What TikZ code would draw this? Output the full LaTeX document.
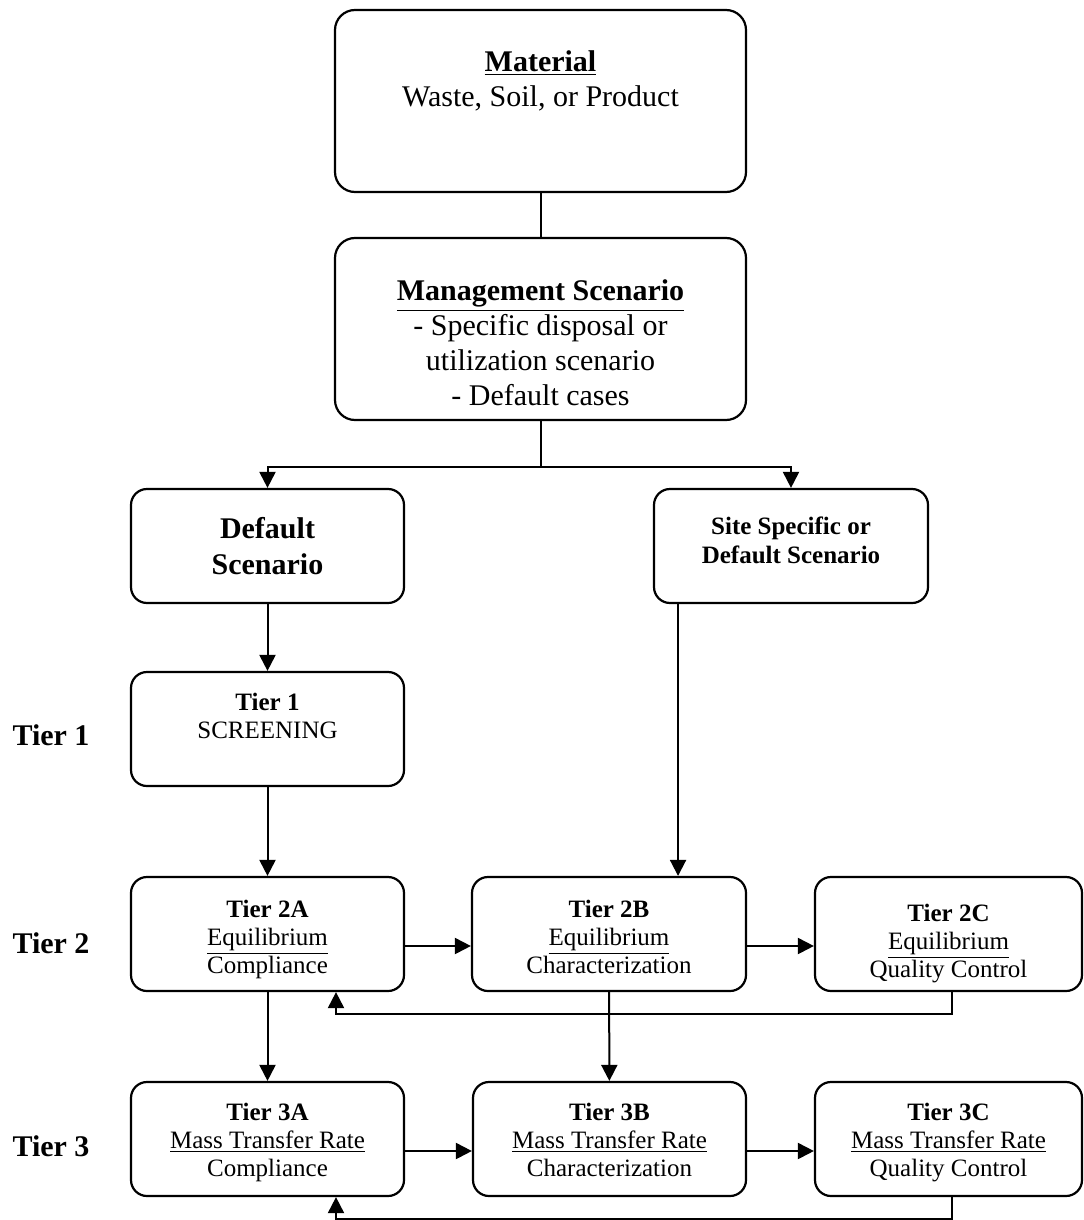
\documentclass[tikz,border=0pt]{standalone}
\usepackage{fontspec}
\setmainfont{Liberation Serif}
\usetikzlibrary{arrows.meta,calc}

\begin{document}
\begin{tikzpicture}[x=0.5pt,y=-0.5pt,>={Triangle[length=8pt,width=8pt]},line width=1pt]
 \tikzstyle{bigbox} = [draw=black,line width=1.1pt,rounded corners=10pt,minimum width=205.5pt,minimum height=91pt,inner sep=0]
 \tikzstyle{midbox} = [draw=black,line width=1.1pt,rounded corners=8pt,minimum width=136.5pt,minimum height=57pt,inner sep=0]
 \tikzstyle{endbox} = [midbox,minimum width=133.5pt]
 \tikzstyle{bigtext} = [align=center,inner sep=0,font=\fontsize{15pt}{17.5pt}\selectfont]
 \tikzstyle{sitetext} = [align=center,inner sep=0,font=\bfseries\fontsize{12.5pt}{14.5pt}\selectfont]
 \tikzstyle{tiertext} = [align=center,inner sep=0,anchor=north,font=\fontsize{12.5pt}{14pt}\selectfont]
 \tikzstyle{tierlabel} = [inner sep=0,font=\bfseries\fontsize{15pt}{17pt}\selectfont]

 \useasboundingbox (0,0) rectangle (1083,1220);

% Top of the chart
 \node[bigbox] (mat) at (540.5,101) {};
 \node[bigtext] (matT) at ([yshift=10pt]mat.center) {\textbf{\underline{Material}}\\Waste, Soil, or Product};
 \node[bigbox] (mgmt) at (540.5,329) {};
 \node[bigtext] (mgmtT) at ([yshift=-7pt]mgmt.center) {\textbf{\underline{Management Scenario}}\\- Specific disposal or\\utilization scenario\\- Default cases};

% Scenarios
 \node[midbox] (dflt) at (267.5,546) {};
 \node[bigtext,font=\bfseries\fontsize{15pt}{18pt}\selectfont] (dfltT) at (dflt.center) {Default\\Scenario};
 \node[midbox,minimum width=137pt] (site) at (791,546) {};
 \node[sitetext] (siteT) at ([yshift=3pt]site.center) {Site Specific or\\Default Scenario};

% Tiers
 \node[midbox] (t1) at (267.5,729) {};
 \node[tiertext] (t1T) at ([yshift=-10.75pt]t1.north) {\textbf{Tier 1}\\SCREENING};

 \node[midbox] (t2a) at (267.5,934) {};
 \node[tiertext] (t2aT) at ([yshift=-11.5pt]t2a.north) {\textbf{Tier 2A}\\\underline{Equilibrium}\\Compliance};
 \node[midbox,minimum width=137pt] (t2b) at (609,934) {};
 \node[tiertext] (t2bT) at ([yshift=-11.5pt]t2b.north) {\textbf{Tier 2B}\\\underline{Equilibrium}\\Characterization};
 \node[endbox] (t2c) at (948.5,934) {};
 \node[tiertext] (t2cT) at ([yshift=-13.5pt]t2c.north) {\textbf{Tier 2C}\\\underline{Equilibrium}\\Quality Control};

 \node[midbox] (t3a) at (267.5,1139) {};
 \node[tiertext] (t3aT) at ([yshift=-10.75pt]t3a.north) {\textbf{Tier 3A}\\\underline{Mass Transfer Rate}\\Compliance};
 \node[midbox] (t3b) at (609.5,1139) {};
 \node[tiertext] (t3bT) at ([yshift=-10.75pt]t3b.north) {\textbf{Tier 3B}\\\underline{Mass Transfer Rate}\\Characterization};
 \node[endbox] (t3c) at (948.5,1139) {};
 \node[tiertext] (t3cT) at ([yshift=-10.75pt]t3c.north) {\textbf{Tier 3C}\\\underline{Mass Transfer Rate}\\Quality Control};

% Row labels
 \node[tierlabel] (lab1) at (51,735) {Tier 1};
 \node[tierlabel] (lab2) at (51,943) {Tier 2};
 \node[tierlabel] (lab3) at (51,1146) {Tier 3};

% Connectors
 \draw (mat) -- (mgmt);
 \coordinate (split) at ($(mgmt.south)+(0,46)$);
 \draw (mgmt.south) -- (split);
 \draw[->] (split) -| (dflt.north);
 \draw[->] (split) -| (site.north);
 \draw[->] (dflt) -- (t1);
 \draw[->] (t1) -- (t2a);
 \coordinate (t2bin) at ($(t2b.north west)!0.75!(t2b.north east)$);
 \draw[->] (t2bin |- site.south) -- (t2bin);

 \draw[->] ([yshift=-6pt]t2a.east) -- ([yshift=-6pt]t2b.west);
 \draw[->] ([yshift=-6pt]t2b.east) -- ([yshift=-6pt]t2c.west);
 \draw[->] (t2a) -- (t3a);
 \draw[->] (t2b) -- (t3b);
 \coordinate (back2) at ($(t2a.south)+(68.5,0)$);
 \draw[->] ($(t2c.south)+(3.5,0)$) -- ++(0,22) -| (back2);

 \draw[->] ([yshift=-6pt]t3a.east) -- ([yshift=-6pt]t3b.west);
 \draw[->] ([yshift=-6pt]t3b.east) -- ([yshift=-6pt]t3c.west);
 \coordinate (back3) at ($(t3a.south)+(68.5,0)$);
 \draw[->] ($(t3c.south)+(3.5,0)$) -- ++(0,22) -| (back3);

\end{tikzpicture}
\end{document}
